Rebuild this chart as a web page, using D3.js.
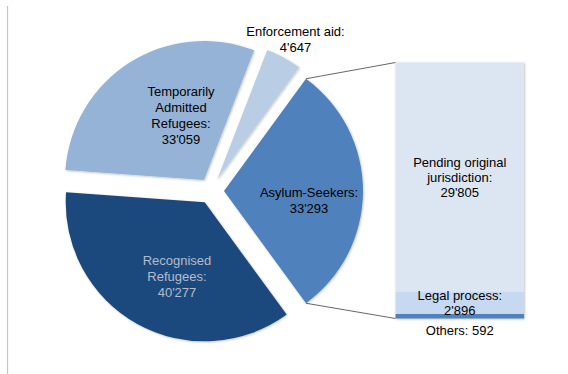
<!DOCTYPE html>
<html>
<head>
<meta charset="utf-8">
<script src="https://cdn.jsdelivr.net/npm/d3@7"></script>
<style>
  html, body { margin: 0; padding: 0; background: #fff; }
  svg { display: block; }
  text { font-family: "Liberation Sans", Arial, sans-serif; font-size: 13px; fill: #000; }
</style>
</head>
<body>
<svg id="chart" width="568" height="374"></svg>
<script>
// Persons in the asylum process, by status
const categories = ["Asylum-Seekers", "Recognised Refugees", "Temporarily Admitted Refugees", "Enforcement aid"];
const values = [33293, 40277, 33059, 4647];
const labelLines = [["Asylum-Seekers:"], ["Recognised", "Refugees:"], ["Temporarily", "Admitted", "Refugees:"], ["Enforcement aid:"]];

// Breakdown of the asylum-seekers slice (bottom to top)
const subCategories = ["Others", "Legal process", "Pending original jurisdiction"];
const subValues = [592, 2896, 29805];
const subLabelLines = [["Others: 592"], ["Legal process:"], ["Pending original", "jurisdiction:"]];

const pieColors = ["#4f81bd", "#1f497d", "#95b3d7", "#b9cde5"];
const barColors = ["#4f81bd", "#c6d9f1", "#dce6f2"];

const fmt = d3.formatLocale({ decimal: ".", thousands: "'", grouping: [3], currency: ["", ""] }).format(",d");

const svg = d3.select("#chart");

// soft shadow under the shapes
const defs = svg.append("defs");
const f = defs.append("filter").attr("id", "shadow").attr("x", "-10%").attr("y", "-10%").attr("width", "120%").attr("height", "120%");
f.append("feDropShadow").attr("dx", 0.8).attr("dy", 0.8).attr("stdDeviation", 1).attr("flood-color", "#000").attr("flood-opacity", 0.25);

// left frame line
svg.append("line").attr("x1", 7.5).attr("x2", 7.5).attr("y1", 6).attr("y2", 374)
  .attr("stroke", "#c4c4c4").attr("stroke-width", 1.2);

// ---- pie ----
const cx = 211, cy = 191, r = 139, explode = 13;
const total = d3.sum(values);
const asylumSpan = values[0] / total * 2 * Math.PI;
const pie = d3.pie().sort(null).value(d => d)
  .startAngle(Math.PI / 2 - asylumSpan / 2)
  .endAngle(Math.PI / 2 - asylumSpan / 2 + 2 * Math.PI);
const arcs = pie(values);
const arc = d3.arc().innerRadius(0).outerRadius(r);

const offset = a => {
  const m = (a.startAngle + a.endAngle) / 2;
  return [explode * Math.sin(m), -explode * Math.cos(m)];
};

const slices = svg.append("g").attr("transform", `translate(${cx},${cy})`);
slices.selectAll("path").data(arcs).join("path")
  .attr("transform", d => `translate(${offset(d)})`)
  .attr("d", arc)
  .attr("fill", (d, i) => pieColors[i])
  .attr("filter", "url(#shadow)");

// ---- bar of the asylum-seekers breakdown ----
const barX = d3.scaleLinear().domain([0, 1]).range([395.5, 524]);
const y = d3.scaleLinear().domain([0, d3.sum(subValues)]).range([318.5, 62.5]);
const stacked = [];
let acc = 0;
subValues.forEach((v, i) => { stacked.push({ v, i, y0: acc, y1: acc + v }); acc += v; });

svg.append("g").attr("filter", "url(#shadow)")
  .selectAll("rect").data(stacked).join("rect")
  .attr("x", barX(0)).attr("width", barX(1) - barX(0))
  .attr("y", d => y(d.y1)).attr("height", d => y(d.y0) - y(d.y1))
  .attr("fill", d => barColors[d.i]);

// connector lines from the asylum slice tips to the bar
const a0 = arcs[0], o0 = offset(a0);
const tip = ang => [cx + o0[0] + r * Math.sin(ang), cy + o0[1] - r * Math.cos(ang)];
const tTop = tip(a0.startAngle), tBot = tip(a0.endAngle);
svg.append("line").attr("x1", tTop[0]).attr("y1", tTop[1]).attr("x2", barX(0)).attr("y2", y(d3.sum(subValues)))
  .attr("stroke", "#404040").attr("stroke-width", 0.8);
svg.append("line").attr("x1", tBot[0]).attr("y1", tBot[1]).attr("x2", barX(0)).attr("y2", y(0))
  .attr("stroke", "#404040").attr("stroke-width", 0.8);

// ---- labels ----
function block(x, yFirst, lines, color) {
  const t = svg.append("text").attr("text-anchor", "middle").style("fill", color || "#000");
  lines.forEach((s, k) => t.append("tspan").attr("x", x).attr("y", yFirst + k * 16).text(s));
}

// label placement for each slice (centre x, first baseline)
const pieLabelPos = [[309, 196.5], [177, 265], [181, 95.5], [295.5, 35.5]];
const pieLabelColor = ["#000", "#b3bccb", "#000", "#000"];
arcs.forEach((d, i) => {
  block(pieLabelPos[i][0], pieLabelPos[i][1], labelLines[i].concat(fmt(values[i])), pieLabelColor[i]);
});

// bar segment labels
const midX = (barX(0) + barX(1)) / 2;
const segLab = (d, lines) => {
  const n = lines.length;
  const c = (y(d.y0) + y(d.y1)) / 2;
  const t = svg.append("text").attr("text-anchor", "middle");
  lines.forEach((s, k) => t.append("tspan").attr("x", midX).attr("y", c + 4.6 + (k - (n - 1) / 2) * 15).text(s));
};
segLab(stacked[2], subLabelLines[2].concat(fmt(subValues[2])));
segLab(stacked[1], subLabelLines[1].concat(fmt(subValues[1])));
svg.append("text").attr("text-anchor", "middle").attr("x", midX).attr("y", y(0) + 16.5).text(subLabelLines[0][0]);
</script>
</body>
</html>
